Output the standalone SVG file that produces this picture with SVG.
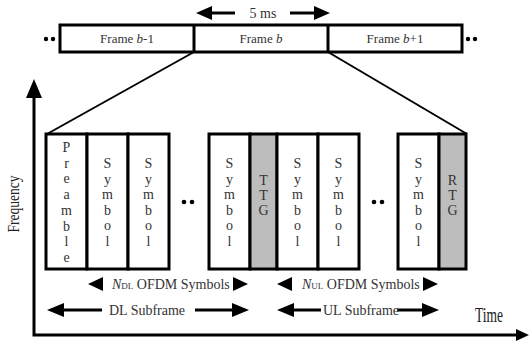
<svg xmlns="http://www.w3.org/2000/svg" width="530" height="347" viewBox="0 0 530 347">
<style>
.bx{fill:#fff;stroke:#000;stroke-width:3}
.gy{fill:#bdbdbd;stroke:#000;stroke-width:3}
.t{font-family:"Liberation Serif",serif;font-size:13px;fill:#333;text-anchor:middle}
.v{font-family:"Liberation Serif",serif;font-size:14px;fill:#333;text-anchor:middle}
.l{font-family:"Liberation Serif",serif;font-size:14px;fill:#333}
.ln{stroke:#000;stroke-width:3;fill:none}
.thin{stroke:#000;stroke-width:2;fill:none}
.hd{fill:#000}
</style>
<rect width="530" height="347" fill="#fff"/>
<g id="axes">
<path class="ln" d="M34,96 V335 H518"/>
<path class="hd" d="M26,98 L34,79 L42,98 Z"/>
<path class="hd" d="M516,329 L529,335 L516,341 Z"/>
<text x="0" y="0" transform="translate(19,204) rotate(-90)" font-family="Liberation Serif,serif" font-size="17" fill="#222" text-anchor="middle" textLength="57" lengthAdjust="spacingAndGlyphs">Frequency</text>
<text x="475" y="322" font-family="Liberation Serif,serif" font-size="20" fill="#222" textLength="28" lengthAdjust="spacingAndGlyphs">Time</text>
</g>
<g id="frames">
<rect class="bx" x="60" y="25" width="402" height="27"/>
<line class="ln" x1="194" y1="25" x2="194" y2="52"/>
<line class="ln" x1="328" y1="25" x2="328" y2="52"/>
<text class="t" x="127" y="43">Frame <tspan font-style="italic">b</tspan>-1</text>
<text class="t" x="261" y="43">Frame <tspan font-style="italic">b</tspan></text>
<text class="t" x="395" y="43">Frame <tspan font-style="italic">b</tspan>+1</text>
<circle cx="46" cy="39" r="2.2"/><circle cx="53" cy="39" r="2.2"/>
<circle cx="468" cy="39" r="2.2"/><circle cx="475" cy="39" r="2.2"/>
</g>
<g id="period">
<line class="ln" x1="208" y1="13" x2="235" y2="13"/>
<path class="hd" d="M212,6 L196,13 L212,20 Z"/>
<line class="ln" x1="290" y1="13" x2="318" y2="13"/>
<path class="hd" d="M314,6 L330,13 L314,20 Z"/>
<text class="l" x="263" y="18" text-anchor="middle">5 ms</text>
</g>
<g id="connectors">
<line class="thin" x1="194" y1="52" x2="47" y2="134"/>
<line class="thin" x1="328" y1="52" x2="467" y2="134"/>
</g>
<g id="preamble">
<rect class="bx" x="46" y="134" width="41" height="135"/>
<text class="v"><tspan x="66.5" y="152">P</tspan><tspan x="66.5" y="167.7">r</tspan><tspan x="66.5" y="183.4">e</tspan><tspan x="66.5" y="199.1">a</tspan><tspan x="66.5" y="214.8">m</tspan><tspan x="66.5" y="230.5">b</tspan><tspan x="66.5" y="246.2">l</tspan><tspan x="66.5" y="261.9">e</tspan></text>
</g>
<g id="dl-symbol-1">
<rect class="bx" x="87" y="134" width="41" height="135"/>
<text class="v"><tspan x="107.5" y="168">S</tspan><tspan x="107.5" y="183.5">y</tspan><tspan x="107.5" y="199">m</tspan><tspan x="107.5" y="214.5">b</tspan><tspan x="107.5" y="230">o</tspan><tspan x="107.5" y="245.5">l</tspan></text>
</g>
<g id="dl-symbol-2">
<rect class="bx" x="128" y="134" width="41" height="135"/>
<text class="v"><tspan x="148.5" y="168">S</tspan><tspan x="148.5" y="183.5">y</tspan><tspan x="148.5" y="199">m</tspan><tspan x="148.5" y="214.5">b</tspan><tspan x="148.5" y="230">o</tspan><tspan x="148.5" y="245.5">l</tspan></text>
</g>
<g id="dl-dots"><circle cx="184" cy="202" r="2.3"/><circle cx="192" cy="202" r="2.3"/></g>
<g id="dl-symbol-n">
<rect class="bx" x="209" y="134" width="41" height="135"/>
<text class="v"><tspan x="229.5" y="168">S</tspan><tspan x="229.5" y="183.5">y</tspan><tspan x="229.5" y="199">m</tspan><tspan x="229.5" y="214.5">b</tspan><tspan x="229.5" y="230">o</tspan><tspan x="229.5" y="245.5">l</tspan></text>
</g>
<g id="ttg">
<rect class="gy" x="250" y="134" width="27" height="135"/>
<text class="v"><tspan x="263.5" y="185">T</tspan><tspan x="263.5" y="200">T</tspan><tspan x="263.5" y="215">G</tspan></text>
</g>
<g id="ul-symbol-1">
<rect class="bx" x="277" y="134" width="41" height="135"/>
<text class="v"><tspan x="297.5" y="168">S</tspan><tspan x="297.5" y="183.5">y</tspan><tspan x="297.5" y="199">m</tspan><tspan x="297.5" y="214.5">b</tspan><tspan x="297.5" y="230">o</tspan><tspan x="297.5" y="245.5">l</tspan></text>
</g>
<g id="ul-symbol-2">
<rect class="bx" x="318" y="134" width="41" height="135"/>
<text class="v"><tspan x="338.5" y="168">S</tspan><tspan x="338.5" y="183.5">y</tspan><tspan x="338.5" y="199">m</tspan><tspan x="338.5" y="214.5">b</tspan><tspan x="338.5" y="230">o</tspan><tspan x="338.5" y="245.5">l</tspan></text>
</g>
<g id="ul-dots"><circle cx="374" cy="202" r="2.3"/><circle cx="382" cy="202" r="2.3"/></g>
<g id="ul-symbol-n">
<rect class="bx" x="398" y="134" width="41" height="135"/>
<text class="v"><tspan x="418.5" y="168">S</tspan><tspan x="418.5" y="183.5">y</tspan><tspan x="418.5" y="199">m</tspan><tspan x="418.5" y="214.5">b</tspan><tspan x="418.5" y="230">o</tspan><tspan x="418.5" y="245.5">l</tspan></text>
</g>
<g id="rtg">
<rect class="gy" x="439" y="134" width="27" height="135"/>
<text class="v"><tspan x="452.5" y="185">R</tspan><tspan x="452.5" y="200">T</tspan><tspan x="452.5" y="215">G</tspan></text>
</g>
<g id="ndl">
<path class="hd" d="M103,277 L88,284 L103,291 Z"/>
<path class="hd" d="M233,277 L248,284 L233,291 Z"/>
<text class="l" x="112" y="289"><tspan font-style="italic">N</tspan><tspan font-size="9">DL</tspan> OFDM Symbols</text>
</g>
<g id="nul">
<path class="hd" d="M292,277 L277,284 L292,291 Z"/>
<path class="hd" d="M423,277 L438,284 L423,291 Z"/>
<text class="l" x="302" y="289"><tspan font-style="italic">N</tspan><tspan font-size="9">UL</tspan> OFDM Symbols</text>
</g>
<g id="dl-subframe">
<line class="ln" x1="60" y1="310" x2="102" y2="310"/>
<path class="hd" d="M64,303 L47,310 L64,317 Z"/>
<line class="ln" x1="195" y1="310" x2="235" y2="310"/>
<path class="hd" d="M232,303 L249,310 L232,317 Z"/>
<text class="l" x="109" y="315">DL Subframe</text>
</g>
<g id="ul-subframe">
<line class="ln" x1="290" y1="310" x2="321" y2="310"/>
<path class="hd" d="M294,303 L277,310 L294,317 Z"/>
<line class="ln" x1="397" y1="310" x2="425" y2="310"/>
<path class="hd" d="M422,303 L439,310 L422,317 Z"/>
<text class="l" x="323" y="315">UL Subframe</text>
</g>
</svg>
